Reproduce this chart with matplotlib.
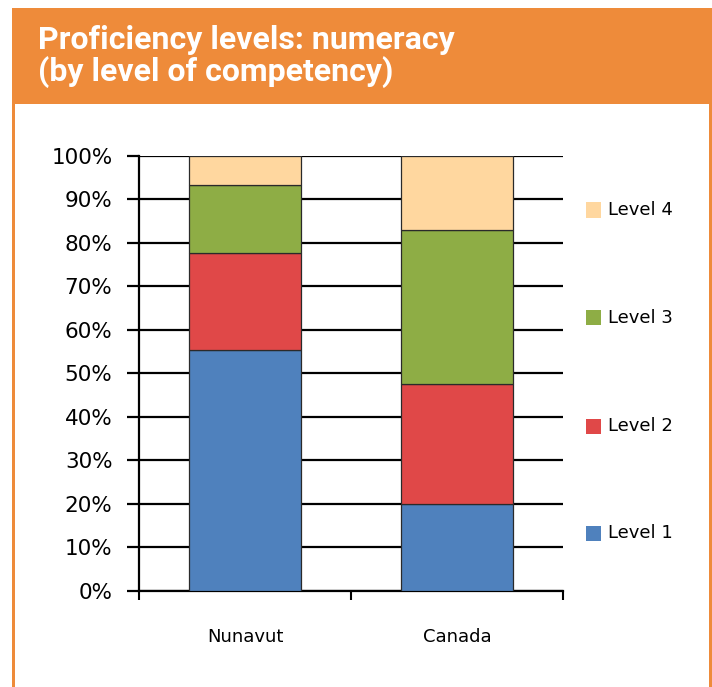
import matplotlib
matplotlib.use("Agg")
import matplotlib.pyplot as plt
from matplotlib.patches import Rectangle
import numpy as np

# ---- data ----
categories = ["Nunavut", "Canada"]
series_labels = ["Level 1", "Level 2", "Level 3", "Level 4"]
level1 = [55.3, 20.0]
level2 = [22.3, 27.5]
level3 = [15.7, 35.4]
level4 = [6.7, 17.1]
series_values = [level1, level2, level3, level4]
series_colors = ["#4F81BD", "#E04848", "#8EAD45", "#FFD79F"]
ytick_values = list(range(0, 101, 10))
ytick_labels = [f"{v}%" for v in ytick_values]
title_lines = ["Proficiency levels: numeracy", "(by level of competency)"]

W, H = 712, 687
DPI = 100
fig = plt.figure(figsize=(W / DPI, H / DPI), dpi=DPI)
fig.patch.set_facecolor("white")

ORANGE = "#EE8B3A"

def fx(px):
    return px / W

def fy(py):
    return 1 - py / H

# header band
fig.patches.append(Rectangle((fx(12), fy(104)), fx(712) - fx(12), fy(8) - fy(104),
                             transform=fig.transFigure, facecolor=ORANGE, edgecolor="none", zorder=0))
# side borders
fig.patches.append(Rectangle((fx(12), 0), fx(3), fy(104),
                             transform=fig.transFigure, facecolor=ORANGE, edgecolor="none", zorder=0))
fig.patches.append(Rectangle((fx(709), 0), fx(3), fy(104),
                             transform=fig.transFigure, facecolor=ORANGE, edgecolor="none", zorder=0))

# title
fig.text(fx(38), fy(49), title_lines[0], color="white", fontsize=23, fontweight="bold",
         family="Roboto", va="baseline", ha="left")
fig.text(fx(38), fy(81), title_lines[1], color="white", fontsize=23, fontweight="bold",
         family="Roboto", va="baseline", ha="left")

# axes
ax_left, ax_right = 139, 563
ax_top, ax_bottom = 155.7, 591
ax = fig.add_axes([fx(ax_left), fy(ax_bottom), (ax_right - ax_left) / W, (ax_bottom - ax_top) / H])
ax.set_facecolor("none")

x = np.arange(len(categories))
bottom = np.zeros(len(categories))
for vals, col, lab in zip(series_values, series_colors, series_labels):
    ax.bar(x, vals, bottom=bottom, width=0.53, color=col, edgecolor="#2a2a2a",
           linewidth=0.9, label=lab, zorder=3)
    bottom += np.array(vals)

ax.set_xlim(-0.5, 1.5)
ax.set_ylim(0, 100)
ax.set_yticks(ytick_values)
ax.set_yticklabels(ytick_labels, fontsize=15.5, family="DejaVu Sans")
ax.yaxis.grid(True, color="black", linewidth=1.6, zorder=1)
ax.set_axisbelow(True)
ax.tick_params(axis="y", direction="out", length=8.6, width=1.6, pad=10.5, color="black")

ax.set_xticks(x)
ax.set_xticklabels(categories, fontsize=13, family="DejaVu Sans")
ax.tick_params(axis="x", which="major", length=0, pad=27)
ax.set_xticks([-0.5, 0.5, 1.5], minor=True)
ax.tick_params(axis="x", which="minor", direction="out", length=6.5, width=1.5, color="black")

for s in ["top", "right"]:
    ax.spines[s].set_visible(False)
ax.spines["left"].set_linewidth(1.6)
ax.spines["bottom"].set_linewidth(1.6)

# legend (manual, Level 4 at top)
legend_y = {"Level 4": 210, "Level 3": 318, "Level 2": 426, "Level 1": 533}
for lab, col in zip(series_labels, series_colors):
    yc = legend_y[lab]
    fig.patches.append(Rectangle((fx(586), fy(yc + 7.5)), fx(15), 15 / H,
                                 transform=fig.transFigure, facecolor=col, edgecolor="none"))
    fig.text(fx(608), fy(yc), lab, fontsize=13, family="DejaVu Sans", va="center", ha="left")

fig.savefig("out.png", dpi=DPI)
